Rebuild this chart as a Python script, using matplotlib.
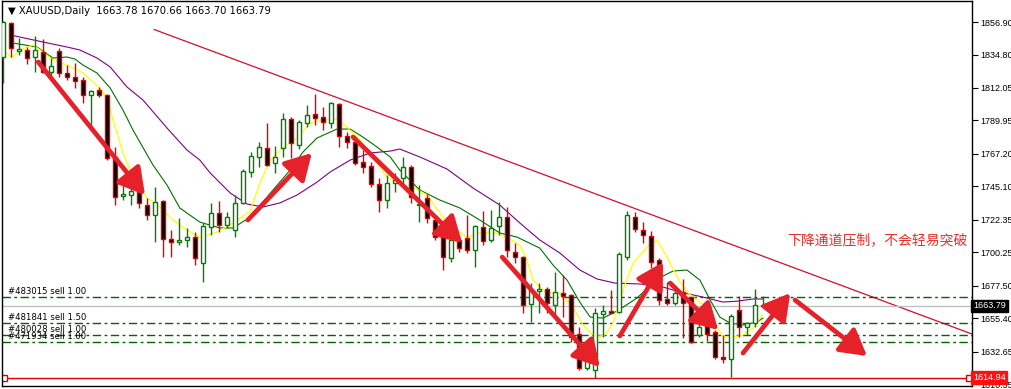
import matplotlib
matplotlib.use('Agg')
import matplotlib.pyplot as plt
from matplotlib.transforms import blended_transform_factory

plt.rcParams['font.family'] = ['DejaVu Sans', 'Noto Sans CJK SC']

# daily XAUUSD candles (oldest first)
opens = [1833.1, 1856.2, 1837.2, 1837.9, 1832.9, 1836.7, 1822.7, 1837.4, 1822.0, 1819.3,
         1817.5, 1807.2, 1810.6, 1807.2, 1765.3, 1738.7, 1739.2, 1741.5, 1732.4, 1725.6,
         1735.3, 1709.5, 1707.0, 1708.6, 1710.8, 1692.7, 1717.6, 1727.0, 1718.8, 1715.4,
         1734.0, 1755.1, 1764.9, 1771.0, 1760.8, 1771.0, 1790.7, 1773.2, 1788.0, 1794.3,
         1792.1, 1788.4, 1801.1, 1779.4, 1775.3, 1761.9, 1758.9, 1746.5, 1735.8, 1747.6,
         1750.6, 1758.1, 1732.4, 1736.9, 1722.2, 1710.8, 1696.1, 1708.6, 1710.0, 1701.8,
         1717.6, 1708.6, 1718.1, 1724.0, 1700.6, 1697.2, 1665.1, 1674.1, 1675.0, 1664.4,
         1672.7, 1671.2, 1644.6, 1621.3, 1620.2, 1658.2, 1660.3, 1659.8, 1697.2, 1724.0,
         1715.4, 1711.5, 1695.0, 1668.3, 1665.5, 1673.4, 1669.6, 1644.0, 1650.0, 1646.2,
         1629.2, 1627.4, 1661.0, 1649.6, 1651.9, 1663.78]
highs = [1857.5, 1856.9, 1846.0, 1840.1, 1847.4, 1845.3, 1832.4, 1839.4, 1827.6, 1829.0,
         1819.7, 1810.6, 1812.9, 1808.0, 1772.1, 1748.3, 1747.4, 1747.4, 1737.2, 1744.9,
         1736.0, 1715.4, 1723.6, 1716.8, 1714.2, 1720.2, 1734.0, 1735.3, 1727.9, 1739.2,
         1756.7, 1768.7, 1775.5, 1788.0, 1772.5, 1794.8, 1792.5, 1790.2, 1800.4, 1807.9,
         1798.9, 1802.7, 1802.0, 1782.3, 1779.4, 1769.8, 1761.9, 1750.6, 1752.8, 1754.2,
         1765.1, 1759.6, 1746.0, 1739.9, 1723.4, 1712.0, 1712.0, 1711.3, 1725.6, 1718.8,
         1728.5, 1729.0, 1734.6, 1730.8, 1706.3, 1697.8, 1679.1, 1679.1, 1676.8, 1687.0,
         1684.8, 1671.8, 1649.6, 1632.6, 1662.1, 1664.4, 1674.6, 1700.6, 1728.5, 1727.9,
         1721.0, 1714.9, 1696.1, 1680.2, 1674.6, 1681.9, 1670.0, 1655.3, 1653.0, 1647.4,
         1644.0, 1658.2, 1670.5, 1653.0, 1675.0, 1670.66]
lows = [1815.4, 1833.1, 1834.4, 1828.1, 1823.1, 1822.2, 1818.8, 1819.7, 1817.5, 1812.0,
        1802.0, 1784.8, 1806.1, 1763.0, 1732.4, 1735.8, 1732.4, 1730.4, 1722.2, 1707.4,
        1697.2, 1697.2, 1705.2, 1704.0, 1691.6, 1680.2, 1712.0, 1714.2, 1716.6, 1710.8,
        1733.1, 1751.7, 1758.1, 1758.9, 1754.0, 1765.3, 1764.2, 1770.3, 1785.7, 1786.8,
        1783.4, 1784.6, 1772.1, 1771.0, 1759.6, 1754.4, 1744.5, 1727.8, 1730.2, 1741.5,
        1746.0, 1733.6, 1720.8, 1720.0, 1708.6, 1688.2, 1693.8, 1700.4, 1699.7, 1690.4,
        1705.2, 1707.4, 1712.0, 1696.8, 1692.7, 1659.1, 1653.0, 1658.7, 1658.7, 1657.6,
        1656.4, 1639.4, 1620.2, 1620.2, 1614.5, 1642.8, 1658.7, 1658.7, 1695.0, 1714.2,
        1706.3, 1689.3, 1664.4, 1664.4, 1664.4, 1641.7, 1638.7, 1642.8, 1640.0, 1627.4,
        1624.7, 1615.6, 1642.8, 1644.0, 1649.6, 1663.70]
closes = [1856.9, 1839.2, 1838.5, 1832.4, 1837.9, 1823.1, 1827.0, 1822.0, 1819.3, 1817.0,
          1807.2, 1810.0, 1807.2, 1764.2, 1738.1, 1739.9, 1741.9, 1733.6, 1725.6, 1734.6,
          1709.1, 1707.0, 1708.6, 1710.8, 1696.4, 1718.1, 1727.0, 1718.8, 1724.4, 1733.6,
          1755.5, 1765.8, 1771.7, 1759.6, 1764.9, 1790.7, 1774.4, 1788.9, 1793.6, 1791.4,
          1788.7, 1801.6, 1779.4, 1775.1, 1761.2, 1758.1, 1746.5, 1735.8, 1747.2, 1749.4,
          1758.5, 1737.6, 1733.1, 1723.4, 1710.4, 1696.8, 1708.6, 1703.1, 1701.8, 1718.1,
          1708.1, 1716.6, 1724.0, 1701.8, 1697.2, 1664.4, 1674.6, 1675.0, 1665.5, 1673.4,
          1670.5, 1642.8, 1621.3, 1629.2, 1659.1, 1660.3, 1659.1, 1699.1, 1725.6, 1715.9,
          1712.0, 1693.8, 1667.8, 1665.5, 1672.3, 1665.5, 1639.4, 1649.6, 1645.0, 1629.2,
          1627.4, 1657.1, 1649.6, 1652.3, 1664.4, 1663.79]

# moving average lines: (bar position, price)
ma_fast_x = [0.5, 1.1, 2.1, 3.75, 5.0, 6.25, 8.0, 10.0, 12.1, 13.0, 13.75, 15.0, 16.25, 18.0,
             19.6, 21.25, 23.0, 24.6, 26.75, 28.75, 30.9, 32.1, 33.4, 35.0, 36.75, 38.4, 40.0,
             41.75, 43.0, 44.6, 46.25, 48.0, 49.6, 51.25, 53.0, 54.6, 56.25, 58.0, 59.6, 61.25,
             63.0, 64.6, 65.5, 66.25, 68.0, 69.6, 71.25, 72.5, 74.0, 75.25, 76.25, 77.5, 78.75,
             80.5, 81.75, 83.0, 84.25, 85.5, 86.75, 88.0, 89.25, 90.0, 91.25, 92.5, 93.75, 94.9]
ma_fast = [1835.8, 1832.4, 1837.9, 1841.3, 1836.5, 1831.0, 1827.6, 1822.2, 1812.0, 1805.2,
           1790.2, 1767.8, 1750.8, 1737.2, 1731.0, 1722.2, 1715.4, 1710.6, 1714.0, 1720.2,
           1728.3, 1747.4, 1763.0, 1771.9, 1778.0, 1788.2, 1790.2, 1790.9, 1785.5, 1776.6,
           1765.1, 1751.5, 1746.7, 1744.6, 1739.2, 1727.0, 1716.8, 1710.6, 1713.4, 1714.0,
           1710.6, 1705.2, 1695.0, 1681.4, 1672.5, 1672.5, 1663.0, 1650.8, 1642.6, 1644.0,
           1652.1, 1674.6, 1692.9, 1703.8, 1708.6, 1697.0, 1683.4, 1673.2, 1667.8, 1663.0,
           1649.4, 1642.6, 1642.6, 1644.0, 1648.7, 1657.6]
ma_mid_x = [1.25, 4.25, 6.25, 8.0, 9.0, 10.0, 11.75, 13.4, 15.0, 16.25, 18.75, 20.5, 22.1,
            24.6, 27.1, 28.75, 30.9, 33.75, 35.9, 37.5, 39.25, 41.75, 43.4, 45.0, 46.75, 48.4,
            49.6, 52.1, 54.6, 57.1, 59.6, 62.1, 64.25, 67.1, 68.75, 70.5, 72.1, 73.4, 75.0,
            76.75, 79.25, 81.75, 83.75, 85.5, 87.1, 88.4, 89.6, 90.9, 92.5, 94.25, 95.0]
ma_mid = [1842.6, 1839.9, 1832.4, 1833.1, 1831.7, 1827.6, 1822.2, 1812.0, 1797.0, 1783.4,
          1759.6, 1746.0, 1730.4, 1720.8, 1716.8, 1716.8, 1724.2, 1742.6, 1756.2, 1768.5,
          1778.0, 1784.1, 1784.1, 1778.6, 1771.9, 1765.1, 1756.2, 1742.6, 1735.8, 1730.4,
          1722.2, 1713.4, 1710.6, 1703.1, 1691.6, 1681.4, 1666.4, 1656.2, 1655.5, 1660.3,
          1669.1, 1682.1, 1687.5, 1688.2, 1681.4, 1667.8, 1656.2, 1652.1, 1650.8, 1652.8,
          1655.5]
ma_slow_x = [0.9, 5.0, 8.0, 9.6, 11.75, 13.4, 15.5, 17.5, 20.5, 23.0, 24.6, 25.9, 28.4, 30.5,
             32.5, 34.6, 36.75, 39.25, 40.9, 43.4, 45.9, 48.4, 49.6, 52.1, 55.5, 58.75, 62.1,
             64.6, 67.1, 69.6, 72.1, 74.25, 76.5, 79.6, 82.1, 84.6, 87.5, 90.0, 91.75, 93.75,
             95.0]
ma_slow = [1848.1, 1843.3, 1839.9, 1837.9, 1832.4, 1826.3, 1812.7, 1803.8, 1784.8, 1769.8,
           1763.0, 1754.2, 1740.6, 1733.1, 1731.1, 1733.8, 1739.2, 1748.0, 1754.9, 1763.0,
           1767.8, 1769.1, 1770.5, 1765.1, 1756.9, 1744.0, 1732.4, 1720.2, 1708.6, 1699.8,
           1688.2, 1682.1, 1679.3, 1678.7, 1677.3, 1673.2, 1669.8, 1666.4, 1667.0, 1668.5,
           1668.5]

# descending channel line
trend_x = [18.9, 121.1]
trend_y = [1851.8, 1644.7]

# open sell orders
order_labels = ['#483015 sell 1.00', '#481841 sell 1.50', '#480028 sell 1.00', '#471934 sell 1.00']
order_prices = [1669.6, 1651.9, 1644.0, 1639.4]

last_price = 1663.79
stop_price = 1614.94

# hand-drawn arrows: (tail x, tail price, head x, head price)
arrows = [(4.4, 1829.7, 17.75, 1739.2),
          (30.6, 1722.2, 38.6, 1767.8),
          (43.75, 1778.7, 57.4, 1706.5),
          (62.4, 1697.0, 74.6, 1622.2),
          (77.1, 1643.3, 82.5, 1693.6),
          (83.4, 1679.3, 89.4, 1647.4),
          (92.5, 1631.7, 98.4, 1672.5),
          (99.0, 1667.8, 108.0, 1629.7)]

ytick_vals = [1856.90, 1834.80, 1812.05, 1789.95, 1767.20, 1745.10, 1722.35,
              1700.25, 1677.50, 1655.40, 1632.65, 1610.55]

W, H = 1012, 389
fig = plt.figure(figsize=(W / 100, H / 100), dpi=100)
ax = fig.add_axes([2 / W, 3 / H, 970 / W, 385 / H])
ax.set_xlim(-0.125, 121.125)
ax.set_ylim(1609.3, 1871.2)

# lines behind candles
ax.plot(trend_x, trend_y, color='#d0102a', lw=0.9, zorder=1)
ax.axhline(last_price, color='#c0c0c0', lw=1, zorder=1)
for p in order_prices:
    ax.axhline(p, color='#006400', lw=1, dashes=(6, 2.5, 2, 2.5), zorder=1)
ax.plot([0.1, 120.75], [stop_price, stop_price], color='#e00000', lw=1,
        marker='s', ms=4, mfc='white', mec='#e00000', zorder=2)

ax.plot(ma_slow_x, ma_slow, color='#800080', lw=0.8, zorder=2)
ax.plot(ma_mid_x, ma_mid, color='#007000', lw=0.8, zorder=2)
ax.plot(ma_fast_x, ma_fast, color='#ffff00', lw=0.9, zorder=2)

# candles
xs = list(range(len(opens)))
for x, o, h, l, c in zip(xs, opens, highs, lows, closes):
    up = c >= o
    col = '#008000' if up else '#e00000'
    face = 'white' if up else 'black'
    ax.vlines(x, l, h, color=col, lw=1, zorder=3)
    body = max(abs(c - o), 0.4)
    ax.bar(x, body, bottom=min(o, c), width=0.56, color=face, edgecolor=col,
           linewidth=1, zorder=4)

for x0, y0, x1, y1 in arrows:
    ax.annotate('', xy=(x1, y1), xytext=(x0, y0),
                arrowprops=dict(arrowstyle='-|>,head_length=1.05,head_width=0.6',
                                mutation_scale=15, color='#e62129', lw=3.4,
                                shrinkA=0, shrinkB=0), zorder=6)

for lab, p in zip(order_labels, order_prices):
    ax.annotate(lab, xy=(0.6, p), xytext=(0, 4), textcoords='offset points',
                fontsize=6.1, va='center', ha='left', color='black', zorder=7)

ax.text(0.6, 1864.2, '\u25bc XAUUSD,Daily  1663.78 1670.66 1663.70 1663.79',
        fontsize=7.2, va='center', ha='left', color='black', zorder=7)

ax.text(98.0, 1708.6, '下降通道压制，不会轻易突破', family=['Noto Sans CJK SC', 'DejaVu Sans'],
        fontsize=10, color='#e8302c', va='center', ha='left', zorder=7)

# price axis on the right
ax.yaxis.tick_right()
ax.set_yticks(ytick_vals)
ax.set_yticklabels(['%.2f' % v for v in ytick_vals], family='Liberation Sans')
ax.tick_params(axis='y', direction='out', length=4, width=0.8, pad=2, labelsize=6.5)
ax.set_xticks([])
for s in ax.spines.values():
    s.set_color('black')
    s.set_linewidth(1)

tr = blended_transform_factory(ax.transAxes, ax.transData)
ax.text(1.001, last_price, '%.2f' % last_price, transform=tr, fontsize=6.5, color='white',
        family='Liberation Sans', va='center', ha='left', zorder=8, clip_on=False,
        bbox=dict(boxstyle='square,pad=0.2', fc='black', ec='black'))
ax.text(1.001, stop_price, '%.2f' % stop_price, transform=tr, fontsize=6.5, color='white',
        family='Liberation Sans', va='center', ha='left', zorder=8, clip_on=False,
        bbox=dict(boxstyle='square,pad=0.2', fc='#ff1010', ec='#ff1010'))

fig.savefig('out.png', dpi=100, facecolor='white')
